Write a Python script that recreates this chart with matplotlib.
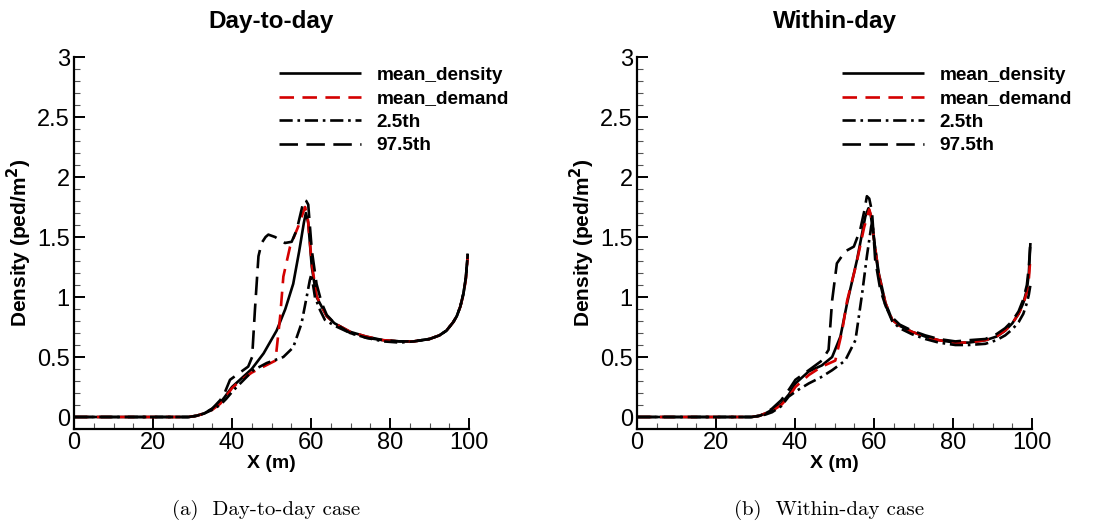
import matplotlib
matplotlib.use("Agg")
import matplotlib.pyplot as plt
from matplotlib.ticker import MultipleLocator

plt.rcParams['font.family'] = ['Liberation Sans', 'DejaVu Sans']

titles = ["Day-to-day", "Within-day"]
captions = ["(a)  Day-to-day case", "(b)  Within-day case"]
labels = ["mean_density", "mean_demand", "2.5th", "97.5th"]

# day-to-day case
d2d_mean_x = [0, 29, 31, 33, 35, 37, 38, 40, 42, 45, 48, 51.3, 53.5, 55.5, 57, 58.2, 58.7, 59.3, 60.2, 61.4, 62.7, 64, 66, 69.9, 74, 78.3, 82.5, 86, 90, 92.5, 94.3, 96, 96.9, 97.8, 98.6, 99.2, 99.7]
d2d_mean_y = [0, 0, 0.01, 0.03, 0.07, 0.12, 0.16, 0.25, 0.31, 0.40, 0.53, 0.72, 0.90, 1.11, 1.38, 1.62, 1.70, 1.62, 1.25, 1.00, 0.92, 0.84, 0.78, 0.71, 0.67, 0.64, 0.63, 0.63, 0.65, 0.68, 0.72, 0.79, 0.84, 0.92, 1.03, 1.16, 1.36]
d2d_demand_x = [0, 29, 31, 33, 35, 37, 38, 40, 42, 45, 48, 51, 52.2, 53, 54.7, 56.8, 58.5, 59.2, 60.2, 61.4, 62.7, 64, 66, 69.9, 74, 78.3, 82.5, 86, 90, 92.5, 94.3, 96, 96.9, 97.8, 98.6, 99.2, 99.7]
d2d_demand_y = [0, 0, 0.01, 0.03, 0.06, 0.11, 0.15, 0.24, 0.30, 0.37, 0.42, 0.47, 0.84, 1.17, 1.42, 1.59, 1.75, 1.65, 1.28, 1.01, 0.92, 0.84, 0.78, 0.71, 0.67, 0.64, 0.63, 0.63, 0.65, 0.68, 0.72, 0.79, 0.84, 0.92, 1.02, 1.15, 1.34]
d2d_low_x = [0, 29, 31, 33, 35, 37, 38.5, 40.3, 43, 45.4, 48.8, 53, 55.5, 57.6, 58.9, 59.7, 60.1, 61, 62.3, 63.5, 66, 69.9, 74, 78.3, 82.5, 86, 90, 92.5, 94.3, 96, 96.9, 97.8, 98.6, 99.2, 99.7]
d2d_low_y = [0, 0, 0.01, 0.03, 0.06, 0.10, 0.15, 0.22, 0.31, 0.39, 0.45, 0.50, 0.58, 0.78, 1.00, 1.14, 1.19, 1.00, 0.89, 0.81, 0.76, 0.70, 0.66, 0.63, 0.62, 0.63, 0.65, 0.68, 0.72, 0.79, 0.84, 0.92, 1.03, 1.16, 1.36]
d2d_high_x = [0, 29, 31, 33, 35, 37, 38, 39.5, 42, 44.1, 45.1, 45.8, 46.7, 47.5, 48.5, 49.2, 50.9, 53.4, 55.1, 56.4, 57.4, 58.2, 58.8, 59.3, 60.2, 61.4, 62.7, 64, 66, 69.9, 74, 78.3, 82.5, 86, 90, 92.5, 94.3, 96, 96.9, 97.8, 98.6, 99.2, 99.7]
d2d_high_y = [0, 0, 0.01, 0.03, 0.07, 0.14, 0.19, 0.31, 0.37, 0.42, 0.50, 0.89, 1.34, 1.45, 1.50, 1.52, 1.50, 1.45, 1.46, 1.56, 1.70, 1.81, 1.80, 1.77, 1.39, 1.11, 0.95, 0.85, 0.78, 0.70, 0.66, 0.64, 0.63, 0.63, 0.65, 0.68, 0.72, 0.79, 0.84, 0.92, 1.03, 1.16, 1.36]

# within-day case
wd_mean_x = [0, 29, 31, 32.5, 34.2, 36.5, 38.5, 40.1, 43.5, 46.8, 49.4, 51.5, 53.2, 55.7, 57.8, 58.6, 59.2, 59.9, 61.2, 62.9, 64.6, 66.5, 69.6, 73, 76.4, 80.6, 84, 88.2, 91, 93.2, 95, 96.6, 97.8, 98.7, 99.2, 99.6]
wd_mean_y = [0, 0, 0.01, 0.03, 0.06, 0.11, 0.19, 0.28, 0.38, 0.43, 0.50, 0.67, 0.95, 1.31, 1.67, 1.74, 1.68, 1.50, 1.20, 0.95, 0.81, 0.76, 0.71, 0.67, 0.64, 0.62, 0.62, 0.64, 0.67, 0.72, 0.78, 0.86, 0.95, 1.06, 1.20, 1.45]
wd_demand_x = [0, 29, 31, 32.5, 34.2, 36.5, 38.5, 40.1, 43.5, 46.8, 50.2, 51.9, 53.2, 55.5, 57.5, 58.8, 59.4, 60, 61.2, 62.9, 64.6, 66.5, 69.6, 73, 76.4, 80.6, 84, 88.2, 91, 93.2, 95, 96.6, 97.8, 98.7, 99.2, 99.6]
wd_demand_y = [0, 0, 0.01, 0.03, 0.05, 0.10, 0.17, 0.25, 0.35, 0.42, 0.47, 0.71, 0.97, 1.27, 1.58, 1.73, 1.66, 1.48, 1.19, 0.95, 0.81, 0.76, 0.71, 0.67, 0.64, 0.62, 0.62, 0.64, 0.67, 0.72, 0.78, 0.86, 0.94, 1.04, 1.15, 1.33]
wd_low_x = [0, 29, 31, 32.5, 34.2, 36.5, 38.4, 40.5, 43.5, 46.5, 49.4, 52.7, 55.3, 57, 58.2, 59.3, 59.6, 60.3, 61.3, 62.9, 64.6, 66.5, 69.6, 73, 76.4, 80.6, 84, 88.2, 91, 93.2, 95, 96.6, 97.8, 98.7, 99.2, 99.6]
wd_low_y = [0, 0, 0.01, 0.02, 0.04, 0.09, 0.17, 0.22, 0.28, 0.33, 0.39, 0.47, 0.64, 1.03, 1.34, 1.59, 1.62, 1.39, 1.15, 0.93, 0.80, 0.74, 0.69, 0.65, 0.62, 0.60, 0.60, 0.61, 0.64, 0.68, 0.73, 0.79, 0.86, 0.95, 1.02, 1.10]
wd_high_x = [0, 29, 31, 32.5, 34.2, 36.5, 38.5, 40.1, 43.5, 46.8, 48.5, 49.4, 50.6, 52.7, 54.9, 56.5, 57.5, 58.2, 58.8, 59.5, 60.3, 61.6, 63, 64.6, 66.5, 69.6, 73, 76.4, 80.6, 84, 88.2, 91, 93.2, 95, 96.6, 97.8, 98.7, 99.2, 99.6]
wd_high_y = [0, 0, 0.01, 0.03, 0.07, 0.14, 0.23, 0.31, 0.39, 0.47, 0.56, 0.97, 1.28, 1.38, 1.42, 1.56, 1.71, 1.84, 1.82, 1.71, 1.31, 1.06, 0.92, 0.83, 0.77, 0.72, 0.68, 0.65, 0.63, 0.64, 0.65, 0.69, 0.74, 0.80, 0.88, 0.98, 1.10, 1.25, 1.46]

cases = [
    [(d2d_mean_x, d2d_mean_y), (d2d_demand_x, d2d_demand_y), (d2d_low_x, d2d_low_y), (d2d_high_x, d2d_high_y)],
    [(wd_mean_x, wd_mean_y), (wd_demand_x, wd_demand_y), (wd_low_x, wd_low_y), (wd_high_x, wd_high_y)],
]

colors = ["black", "#d40000", "black", "black"]
dashes = [None, (5.5, 3.2), (5, 1.8, 1, 1.8), (7, 3.2)]

fig = plt.figure(figsize=(10.97, 5.25), dpi=100)
lefts = [74 / 1097, 637 / 1097]

for i in range(2):
    ax = fig.add_axes([lefts[i], 96 / 525, 395 / 1097, 372 / 525])
    for j, (xs, ys) in enumerate(cases[i]):
        line, = ax.plot(xs, ys, color=colors[j], lw=1.9, label=labels[j],
                        solid_capstyle='butt', dash_capstyle='butt')
        if dashes[j] is not None:
            line.set_dashes(dashes[j])
    ax.set_xlim(0, 100)
    ax.set_ylim(-0.1, 3)
    ax.spines['top'].set_visible(False)
    ax.spines['right'].set_visible(False)
    ax.spines['left'].set_linewidth(1.6)
    ax.spines['bottom'].set_linewidth(1.6)
    ax.spines['left'].set_bounds(-0.1, 3)
    ax.xaxis.set_major_locator(MultipleLocator(20))
    ax.xaxis.set_minor_locator(MultipleLocator(5))
    ax.yaxis.set_major_locator(MultipleLocator(0.5))
    ax.yaxis.set_minor_locator(MultipleLocator(0.1))
    ax.set_yticks([0, 0.5, 1, 1.5, 2, 2.5, 3])
    ax.set_yticklabels(["0", "0.5", "1", "1.5", "2", "2.5", "3"])
    ax.tick_params(which='major', direction='in', length=8, width=1.4, labelsize=17)
    ax.tick_params(axis='x', which='major', pad=2)
    ax.tick_params(axis='y', which='major', pad=3)
    ax.tick_params(which='minor', direction='in', length=4, width=0.8, color='#555555')
    ax.set_xlabel("X (m)", fontsize=14, fontweight='bold', labelpad=1)
    ax.set_ylabel("Density (ped/m$^\\mathbf{2}$)", fontsize=15, fontweight='bold', labelpad=2)
    ax.set_title(titles[i], fontsize=17.5, fontweight='bold', pad=21)
    ax.legend(loc='upper left', bbox_to_anchor=(0.52, 0.975), frameon=False,
              handlelength=4.3, handletextpad=0.8, labelspacing=0.33,
              borderpad=0, borderaxespad=0, prop={'weight': 'bold', 'size': 13.7})
    fig.text(lefts[i] + 192 / 1097, 1 - 510 / 525, captions[i], ha='center', va='center',
             fontsize=15, family='cmr10')

fig.savefig("out.png", dpi=100)
